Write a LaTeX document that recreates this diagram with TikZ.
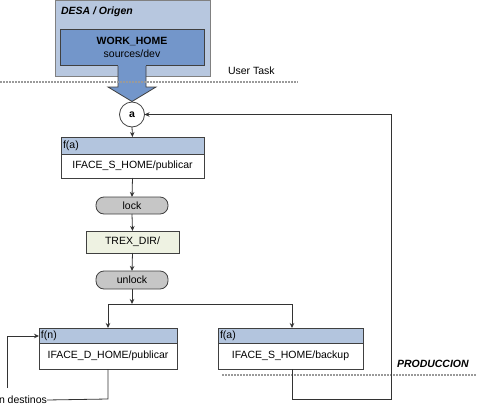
\documentclass[tikz,border=0pt]{standalone}
\usepackage{fontspec}
\setmainfont{Liberation Sans}
\usetikzlibrary{arrows.meta,shapes.geometric}
\definecolor{desafill}{HTML}{B7C7DF}
\definecolor{desaline}{HTML}{808080}
\definecolor{workfill}{HTML}{7396CA}
\definecolor{workline}{HTML}{404040}
\definecolor{headfill}{HTML}{B3C5DE}
\definecolor{trexfill}{HTML}{EEF2E2}
\definecolor{lockfill}{HTML}{C6C6C6}
\definecolor{sepline}{HTML}{9A9A9A}
\definecolor{conn}{HTML}{333333}
\begin{document}
\begin{tikzpicture}[x=1pt,y=-1pt,
  every node/.style={font=\fontsize{10.5}{12}\selectfont, inner sep=0pt, outer sep=0pt},
  boxstyle/.style={draw=workline, line width=0.8pt, rectangle},
  headstyle/.style={boxstyle, fill=headfill},
  bodystyle/.style={boxstyle, fill=white},
  pillstyle/.style={draw=workline, line width=0.8pt, fill=lockfill, rounded corners=8pt, minimum width=72pt, minimum height=17pt},
  conline/.style={draw=conn, line width=0.8pt},
  arr/.style={conline, -{Stealth[length=5pt,width=4.5pt]}},
  sepstyle/.style={draw=sepline, line width=1.3pt, dash pattern=on 2pt off 1pt}
]
\useasboundingbox (0,0) rectangle (477,407);

% DESA container
\node[draw=desaline, line width=0.8pt, fill=desafill, minimum width=155pt, minimum height=75.5pt] (desa) at (132.5,38.25) {};
\node[anchor=west, font=\fontsize{10.5}{12}\selectfont\bfseries\itshape] (desalbl) at (61,12) {DESA / Origen};

% big arrow
\fill[workfill] (118,60) -- (118,87) -- (108,87) -- (132,101.5) -- (156,87) -- (146,87) -- (146,60) -- cycle;
\draw[workline, line width=0.8pt, line join=miter] (118,65) -- (118,87) -- (108,87) -- (132,101.5) -- (156,87) -- (146,87) -- (146,65);

% WORK_HOME
\node[draw=workline, line width=0.8pt, fill=workfill, minimum width=144pt, minimum height=36pt, align=center] (work) at (132,47) {};
\fill[workfill] (118.4,60) rectangle (145.6,66);
\node[align=center] (worktxt) at (132,47) {\textbf{WORK\_HOME}\\[1pt]sources/dev};

% separators
\draw[sepstyle] (0,82) -- (298,82);
\draw[sepstyle] (222,375) -- (477,375);
\node[anchor=west] (usertask) at (228,70.5) {User Task};
\node[anchor=west, font=\fontsize{10.5}{12}\selectfont\bfseries\itshape] (prod) at (397,364) {PRODUCCION};

% circle a
\node[circle, draw=workline, line width=0.8pt, fill=white, minimum size=25pt, font=\fontsize{10.5}{12}\selectfont\bfseries] (a) at (132,114.5) {a};

% f(a) publicar
\node[headstyle, minimum width=143pt, minimum height=17pt] (fah) at (132.5,145.5) {};
\node[anchor=west] (fahl) at ([xshift=2pt]fah.west) {f(a)};
\node[bodystyle, minimum width=143pt, minimum height=24pt] (fab) at (132.5,166) {IFACE\_S\_HOME/publicar};

% lock / trex / unlock
\node[pillstyle] (lock) at (132,205.5) {lock};
\node[boxstyle, fill=trexfill, minimum width=93pt, minimum height=22pt] (trex) at (132.5,242) {TREX\_DIR/};
\node[pillstyle, minimum height=18pt] (unlock) at (132,280) {unlock};

% f(n) publicar
\node[headstyle, minimum width=138pt, minimum height=15pt] (fnh) at (108,335.5) {};
\node[anchor=west] (fnhl) at ([xshift=2pt]fnh.west) {f(n)};
\node[bodystyle, minimum width=138pt, minimum height=26pt] (fnb) at (108,356) {IFACE\_D\_HOME/publicar};

% f(a) backup
\node[headstyle, minimum width=145pt, minimum height=15pt] (fbh) at (290.5,335.5) {};
\node[anchor=west] (fbhl) at ([xshift=2pt]fbh.west) {f(a)};
\node[bodystyle, minimum width=145pt, minimum height=26pt] (fbb) at (290.5,356) {IFACE\_S\_HOME/backup};

% destinos label
\node[anchor=west] (dest) at (-1,400) {n destinos};

% coordinates
\coordinate (split) at (132,304);
\coordinate (splitl) at (108,304);
\coordinate (splitr) at (292,304);
\coordinate (loopb) at (7,388);
\coordinate (loopt) at (7,336);
\coordinate (fnd) at (108,399);
\coordinate (fbd) at (292,399);
\coordinate (rb) at (391,399);
\coordinate (rt) at (391,114.5);

% connectors
\draw[arr] (a.south) -- (fah.north);
\draw[arr] (fab.south) -- (lock.north);
\draw[arr] (lock.south) -- (trex.north);
\draw[arr] (trex.south) -- (unlock.north);
\draw[arr] (unlock.south) -- (split);
\draw[conline] (splitl) -- (splitr);
\draw[arr] (splitl) -- (splitl |- fnh.north);
\draw[arr] (splitr) -- (splitr |- fbh.north);
\draw[conline] (fnb.south) -- (fnd) -- (dest.east);
\draw[arr] (loopb) -- (loopt) -- (loopt -| fnh.west);
\draw[arr] (fbb.south -| fbd) -- (fbd) -- (rb) -- (rt) -- (a.east);
\end{tikzpicture}
\end{document}
